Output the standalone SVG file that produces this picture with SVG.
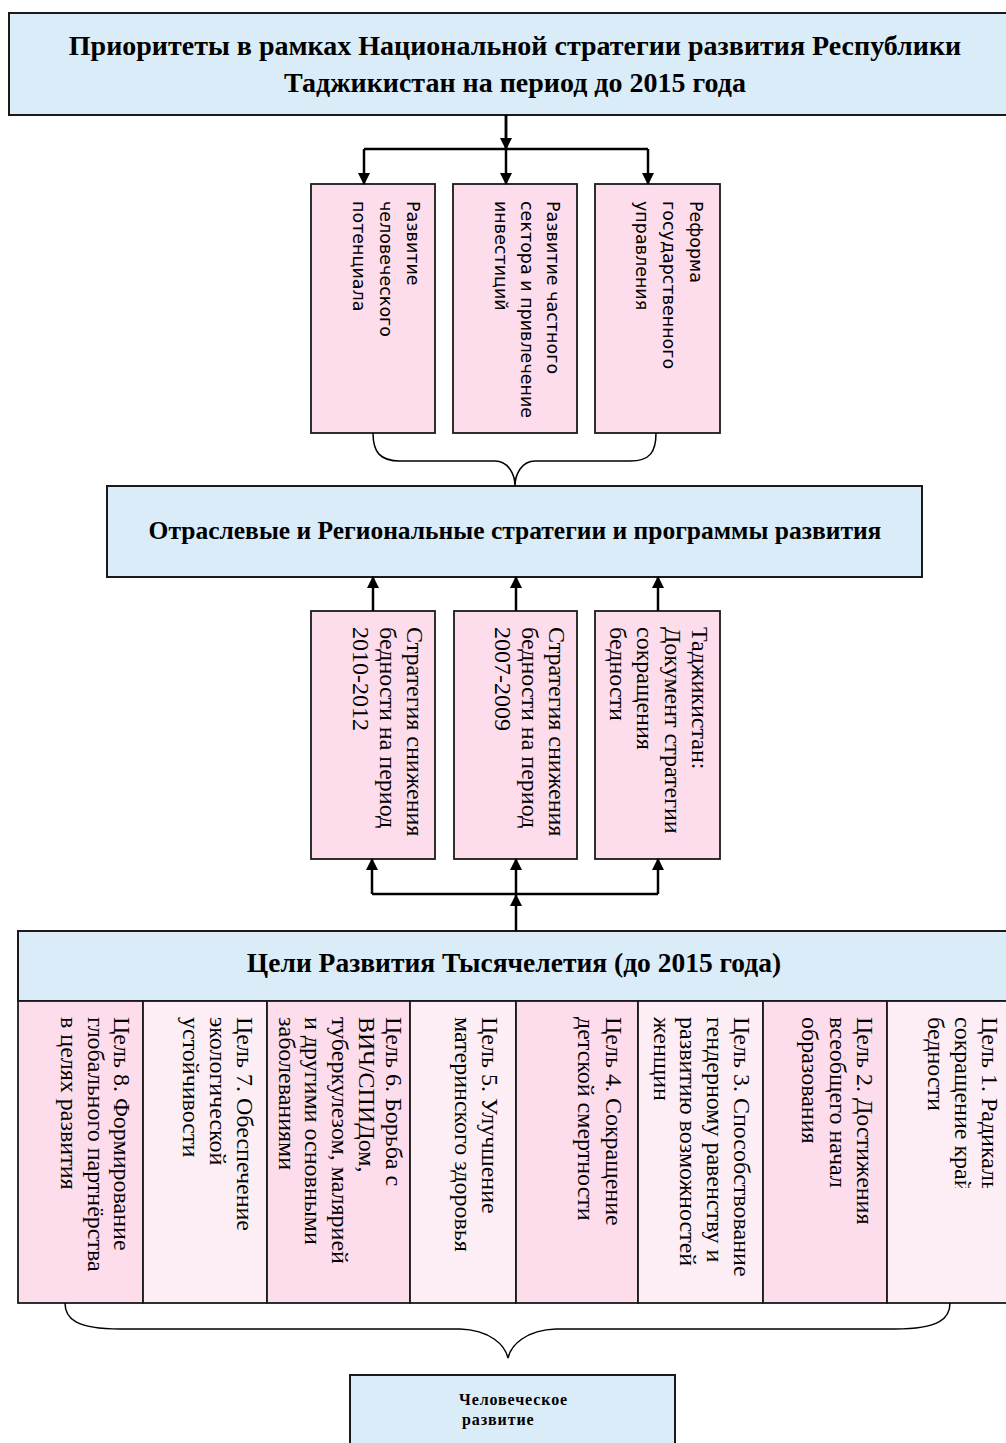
<svg xmlns="http://www.w3.org/2000/svg" width="1006" height="1443" viewBox="0 0 1006 1443">
<defs>
<style>
.blue{fill:#daecf7;stroke:#1a1a1a;stroke-width:2}
.pink{fill:#fddcec;stroke:#1a1a1a;stroke-width:1.8}
.lpink{fill:#fdeef5;stroke:#1a1a1a;stroke-width:1.8}
.title{font-family:"Liberation Serif","Times New Roman",serif;font-weight:bold;fill:#000;text-anchor:middle}
.sans{font-family:"DejaVu Sans","Noto Sans",sans-serif;font-size:17.5px;fill:#000}
.serif{font-family:"Liberation Serif","Times New Roman",serif;font-size:24px;fill:#000}
.line{fill:none;stroke:#000;stroke-width:2.5}
.brace{fill:none;stroke:#000;stroke-width:1.5}
</style>
<marker id="ah" viewBox="0 0 12 12" refX="11" refY="6" markerWidth="12" markerHeight="12" markerUnits="userSpaceOnUse" orient="auto">
<path d="M0,0 L12,6 L0,12 z" fill="#000"/>
</marker>
<clipPath id="c1"><rect x="887" y="1001" width="130" height="187"/></clipPath>
</defs>

<g id="top">
<rect class="blue" x="9" y="13" width="1010" height="102"/>
<text class="title" font-size="28" x="515" y="55">Приоритеты в рамках Национальной стратегии развития Республики</text>
<text class="title" font-size="28" x="515" y="92">Таджикистан на период до 2015 года</text>
</g>

<g id="p1">
<rect class="pink" x="311" y="184" width="124" height="249"/>
<text class="sans" transform="translate(407,201) rotate(90)"><tspan x="0" y="0">Развитие</tspan><tspan x="0" y="27">человеческого</tspan><tspan x="0" y="54">потенциала</tspan></text>
</g>
<g id="p2">
<rect class="pink" x="453" y="184" width="124" height="249"/>
<text class="sans" transform="translate(547,201) rotate(90)"><tspan x="0" y="0">Развитие частного</tspan><tspan x="0" y="26">сектора и привлечение</tspan><tspan x="0" y="52">инвестиций</tspan></text>
</g>
<g id="p3">
<rect class="pink" x="595" y="184" width="125" height="249"/>
<text class="sans" transform="translate(690,201) rotate(90)"><tspan x="0" y="0">Реформа</tspan><tspan x="0" y="27">государственного</tspan><tspan x="0" y="54">управления</tspan></text>
</g>

<g id="mid">
<rect class="blue" x="107" y="486" width="815" height="91"/>
<text class="title" font-size="25.5" x="515" y="539">Отраслевые и Региональные стратегии и программы развития</text>
</g>

<g id="s1">
<rect class="pink" x="311" y="611" width="124" height="248"/>
<text class="serif" transform="translate(407,627) rotate(90)"><tspan x="0" y="0">Стратегия снижения</tspan><tspan x="0" y="27">бедности на период</tspan><tspan x="0" y="54">2010-2012</tspan></text>
</g>
<g id="s2">
<rect class="pink" x="454" y="611" width="123" height="248"/>
<text class="serif" transform="translate(549,627) rotate(90)"><tspan x="0" y="0">Стратегия снижения</tspan><tspan x="0" y="27">бедности на период</tspan><tspan x="0" y="54">2007-2009</tspan></text>
</g>
<g id="s3">
<rect class="pink" x="595" y="611" width="125" height="248"/>
<text class="serif" transform="translate(692,627) rotate(90)"><tspan x="0" y="0">Таджикистан:</tspan><tspan x="0" y="27.5">Документ стратегии</tspan><tspan x="0" y="55">сокращения</tspan><tspan x="0" y="82.5">бедности</tspan></text>
</g>

<g id="goals">
<rect class="blue" x="18" y="931" width="1000" height="70"/>
<text class="title" font-size="27.5" x="514" y="972">Цели Развития Тысячелетия (до 2015 года)</text>
</g>
<g id="g8">
<rect class="pink" x="18" y="1001" width="125" height="302"/>
<text class="serif" transform="translate(114,1017) rotate(90)"><tspan x="0" y="0">Цель 8. Формирование</tspan><tspan x="0" y="26.5">глобального партнёрства</tspan><tspan x="0" y="53">в целях развития</tspan></text>
</g>
<g id="g7">
<rect class="lpink" x="143" y="1001" width="124" height="302"/>
<text class="serif" transform="translate(237,1017) rotate(90)"><tspan x="0" y="0">Цель 7. Обеспечение</tspan><tspan x="0" y="27">экологической</tspan><tspan x="0" y="54">устойчивости</tspan></text>
</g>
<g id="g6">
<rect class="pink" x="267" y="1001" width="143" height="302"/>
<text class="serif" transform="translate(386,1017) rotate(90)"><tspan x="0" y="0">Цель 6. Борьба с</tspan><tspan x="0" y="27">ВИЧ/СПИДом,</tspan><tspan x="0" y="54">туберкулезом, малярией</tspan><tspan x="0" y="81">и другими основными</tspan><tspan x="0" y="107">заболеваниями</tspan></text>
</g>
<g id="g5">
<rect class="lpink" x="410" y="1001" width="106" height="302"/>
<text class="serif" transform="translate(482,1017) rotate(90)"><tspan x="0" y="0">Цель 5. Улучшение</tspan><tspan x="0" y="27">материнского здоровья</tspan></text>
</g>
<g id="g4">
<rect class="pink" x="516" y="1001" width="122" height="302"/>
<text class="serif" transform="translate(606,1017) rotate(90)"><tspan x="0" y="0">Цель 4. Сокращение</tspan><tspan x="0" y="28">детской смертности</tspan></text>
</g>
<g id="g3">
<rect class="lpink" x="638" y="1001" width="125" height="302"/>
<text class="serif" transform="translate(734,1017) rotate(90)"><tspan x="0" y="0">Цель 3. Способствование</tspan><tspan x="0" y="27">гендерному равенству и</tspan><tspan x="0" y="54">развитию возможностей</tspan><tspan x="0" y="80">женщин</tspan></text>
</g>
<g id="g2">
<rect class="pink" x="763" y="1001" width="124" height="302"/>
<text class="serif" transform="translate(857,1017) rotate(90)"><tspan x="0" y="0">Цель 2. Достижения</tspan><tspan x="0" y="27">всеобщего начал</tspan><tspan x="0" y="55">образования</tspan></text>
</g>
<g id="g1">
<rect class="lpink" x="887" y="1001" width="130" height="302"/>
<g clip-path="url(#c1)">
<text class="serif" transform="translate(982,1017) rotate(90)"><tspan x="0" y="0">Цель 1. Радикальн</tspan><tspan x="0" y="27">сокращение крайн</tspan><tspan x="0" y="54">бедности</tspan></text>
</g>
</g>

<g id="human">
<rect class="blue" x="350" y="1375" width="325" height="80"/>
<text class="title" font-size="16" letter-spacing="0.9" x="459" y="1405" style="text-anchor:start">Человеческое</text>
<text class="title" font-size="16" letter-spacing="0.9" x="462" y="1425" style="text-anchor:start">развитие</text>
</g>

<g id="connectors">
<path class="line" d="M506,115 V184" marker-end="url(#ah)"/>
<path class="line" d="M506,115 V149" marker-end="url(#ah)"/>
<path class="line" d="M364,149 H648"/>
<path class="line" d="M364,149 V184" marker-end="url(#ah)"/>
<path class="line" d="M648,149 V184" marker-end="url(#ah)"/>
<path class="brace" d="M373,433 C373,452 380,461 400,461 L495,461 C508,461 515,474 515,486 C515,474 522,461 535,461 L630,461 C650,461 656,452 656,433"/>
<path class="line" d="M373,611 V577" marker-end="url(#ah)"/>
<path class="line" d="M516,611 V577" marker-end="url(#ah)"/>
<path class="line" d="M658,611 V577" marker-end="url(#ah)"/>
<path class="line" d="M516,931 V895" marker-end="url(#ah)"/>
<path class="line" d="M372,894 H658"/>
<path class="line" d="M372,894 V859" marker-end="url(#ah)"/>
<path class="line" d="M516,894 V859" marker-end="url(#ah)"/>
<path class="line" d="M658,894 V859" marker-end="url(#ah)"/>
<path class="brace" d="M65,1303 C65,1318 75,1329 120,1329 L460,1329 C490,1330 505,1345 508,1358 C511,1345 526,1330 556,1329 L895,1329 C940,1329 950,1318 950,1303"/>
</g>
</svg>
